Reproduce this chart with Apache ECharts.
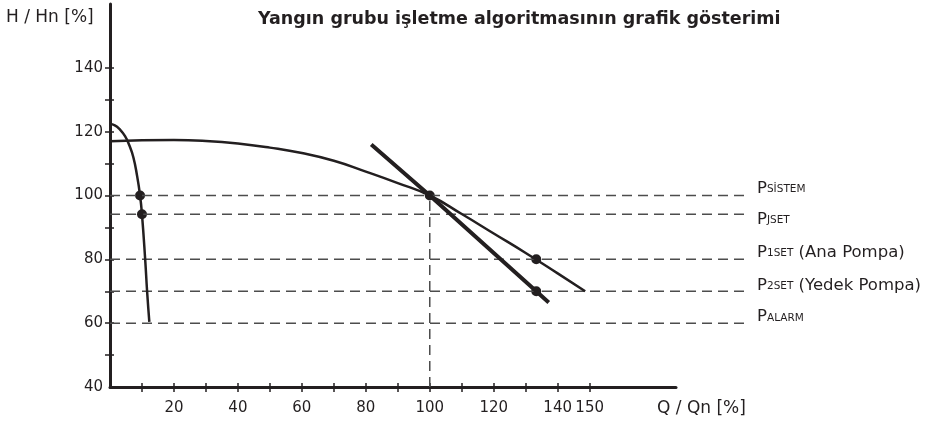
<!DOCTYPE html>
<html lang="tr">
<head>
    <meta charset="UTF-8">
    <title>Yangın grubu</title>
    <script src="https://cdn.jsdelivr.net/npm/echarts@6/dist/echarts.min.js"></script>
</head>
<body style="margin:0">
<div id="main" style="width: 927px;height:424px;"></div>
<script>
    // values (Q / Qn %, H / Hn %)
    var pompaEgrisi = [[0, 117], [10, 117.3], [20, 117.4], [30, 117.1], [40, 116.3], [50, 115], [60, 113.3],
        [70, 110.9], [80, 107.5], [90, 103.9], [100, 100], [110, 94.2], [120, 88.1], [130, 82],
        [140, 75.6], [148.6, 70]];
    var sistemEgrisi = [[81.7, 116], [100, 100], [133.3, 70], [137.2, 66.5]];
    var dikEgri = [[0, 122.4], [1.5, 122], [3, 120.8], [4.7, 118.6], [6, 115.8], [7.3, 112], [8.5, 106],
        [9.4, 100], [10, 94.1], [11, 80], [11.6, 70], [12.3, 60.4]];
    var noktalar = [[9.4, 100], [10, 94.1], [100, 100], [133.3, 80], [133.3, 70]];
    var seviyeler = [100, 94.1, 80, 70, 60];
    var seviyeEtiketleri = ['{p|P}{s|SİSTEM}', '{p|P}{s|JSET}', '{p|P}{s|1SET}{p| (Ana Pompa)}',
        '{p|P}{s|2SET}{p| (Yedek Pompa)}', '{p|P}{s|ALARM}'];
    var etiketKaydirma = [-8, 4, -8, -7, -7];
    var xTicks = [10, 20, 30, 40, 50, 60, 70, 80, 90, 100, 110, 120, 130, 140, 150];
    var xLabels = [20, 40, 60, 80, 100, 120, 140, 150];
    var yTicks = [50, 60, 70, 80, 90, 100, 110, 120, 130, 140];
    var yLabels = [40, 60, 80, 100, 120, 140];

    var ink = '#231f20';
    var myChart = echarts.init(document.getElementById('main'));

    var seviyeSerileri = seviyeler.map(function (v, i) {
        return {
            type: 'line', xAxisIndex: 2, yAxisIndex: 2, symbol: 'none', silent: true,
            lineStyle: {color: '#4d4d4d', width: 1.5, type: [10, 6]},
            data: [[0, v], [198.6, v]],
            endLabel: {
                show: true, distance: 12, offset: [0, etiketKaydirma[i]],
                formatter: seviyeEtiketleri[i],
                rich: {
                    p: {fontSize: 16.5, color: ink, fontFamily: 'DejaVu Sans', lineHeight: 19, verticalAlign: 'bottom'},
                    s: {fontSize: 10.5, color: ink, fontFamily: 'DejaVu Sans', lineHeight: 19, verticalAlign: 'bottom', padding: [0, 0, 2, 0]}
                }
            }
        };
    });

    option = {
        animation: false,
        title: [
            {text: 'Yangın grubu işletme algoritmasının grafik gösterimi', left: 258, top: 10, padding: 0,
                textStyle: {fontSize: 17.5, fontWeight: 'bold', color: ink, fontFamily: 'DejaVu Sans'}},
            {text: 'H / Hn [%]', left: 6, top: 9, padding: 0,
                textStyle: {fontSize: 17, fontWeight: 'normal', color: ink, fontFamily: 'DejaVu Sans'}},
            {text: 'Q / Qn [%]', left: 657, top: 400, padding: 0,
                textStyle: {fontSize: 17, fontWeight: 'normal', color: ink, fontFamily: 'DejaVu Sans'}}
        ],
        grid: [
            {left: 110, width: 566, top: 4, bottom: 37},
            {left: 110, width: 635, top: 4, bottom: 37}
        ],
        xAxis: [
            {
                type: 'value', gridIndex: 0, position: 'bottom', min: 0, max: 177, interval: 10,
                axisLine: {lineStyle: {color: ink, width: 3}},
                axisTick: {length: 5, lineStyle: {color: ink, width: 1.5}, customValues: xTicks},
                axisLabel: {color: ink, fontSize: 15, fontFamily: 'DejaVu Sans', margin: 14, customValues: xLabels},
                splitLine: {show: false}
            },
            {
                type: 'value', gridIndex: 0, position: 'bottom', min: 0, max: 177, interval: 10,
                axisLine: {show: false},
                axisTick: {inside: true, length: 4, lineStyle: {color: ink, width: 1.5}, customValues: xTicks},
                axisLabel: {show: false},
                splitLine: {show: false}
            },
            {type: 'value', gridIndex: 1, min: 0, max: 198.6, show: false}
        ],
        yAxis: [
            {
                type: 'value', gridIndex: 0, position: 'left', min: 40, max: 160, interval: 10,
                axisLine: {show: true, lineStyle: {color: ink, width: 3}},
                axisTick: {show: true, length: 5, lineStyle: {color: ink, width: 1.5}, customValues: yTicks},
                axisLabel: {color: ink, fontSize: 15, fontFamily: 'DejaVu Sans', margin: 7, customValues: yLabels},
                splitLine: {show: false}
            },
            {
                type: 'value', gridIndex: 0, position: 'left', min: 40, max: 160, interval: 10,
                axisLine: {show: false},
                axisTick: {show: true, inside: true, length: 4, lineStyle: {color: ink, width: 1.5}, customValues: yTicks},
                axisLabel: {show: false},
                splitLine: {show: false}
            },
            {type: 'value', gridIndex: 1, min: 40, max: 160, show: false}
        ],
        series: seviyeSerileri.concat([
            {
                type: 'line', symbol: 'none', silent: true,
                lineStyle: {color: '#4d4d4d', width: 1.5, type: [10, 6]},
                data: [[100, 40], [100, 100]]
            },
            {
                type: 'line', symbol: 'none', smooth: true, silent: true,
                lineStyle: {color: ink, width: 2.5},
                data: pompaEgrisi
            },
            {
                type: 'line', symbol: 'none', silent: true,
                lineStyle: {color: ink, width: 4},
                data: sistemEgrisi
            },
            {
                type: 'line', symbol: 'none', smooth: true, silent: true,
                lineStyle: {color: ink, width: 2.5},
                data: dikEgri
            },
            {
                type: 'scatter', symbolSize: 10, silent: true,
                itemStyle: {color: ink, opacity: 1},
                data: noktalar
            }
        ])
    };

    myChart.setOption(option);
</script>
</body>
</html>
